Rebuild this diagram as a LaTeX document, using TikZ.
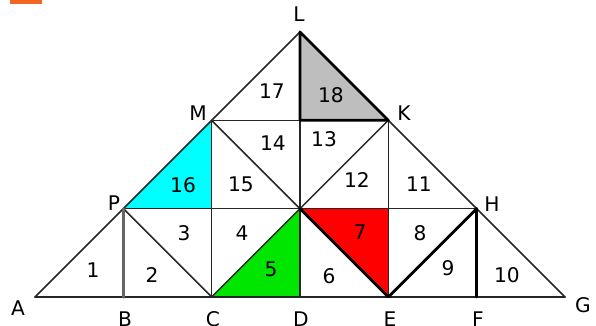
\documentclass[tikz,border=0pt]{standalone}
\usepackage{fontspec}
\setmainfont{DejaVu Sans}
\usetikzlibrary{calc}
\definecolor{piececyan}{RGB}{0,255,255}
\definecolor{piecegreen}{RGB}{0,230,0}
\definecolor{piecered}{RGB}{255,0,0}
\definecolor{piecegray}{RGB}{190,190,190}
\definecolor{markorange}{RGB}{242,101,34}

\begin{document}
\begin{tikzpicture}[x=2cm,y=2cm,line join=round,line cap=round,
	thin line/.style={draw=black!85,line width=1pt},
	thick line/.style={draw=black,line width=1.8pt},
	pt label/.style={font=\fontsize{13}{15}\selectfont,inner sep=0pt},
	area label/.style={font=\fontsize{13}{15}\selectfont,inner sep=0pt}]
	
	\useasboundingbox (-0.396,-0.328) rectangle (6.351,3.362);
	\fill[markorange] (-0.283,3.317) rectangle (0.079,3.362);
	
	% points of the figure
	\coordinate (A) at (0,0);
	\coordinate (B) at (1,0);
	\coordinate (C) at (2,0);
	\coordinate (D) at (3,0);
	\coordinate (E) at (4,0);
	\coordinate (F) at (5,0);
	\coordinate (G) at (6,0);
	\coordinate (P) at (1,1);
	\coordinate (H) at (5,1);
	\coordinate (M) at (2,2);
	\coordinate (K) at (4,2);
	\coordinate (L) at (3,3);
	\coordinate (q) at (2,1);
	\coordinate (o) at (3,1);
	\coordinate (r) at (4,1);
	\coordinate (s) at (3,2);
	
	% coloured pieces
	\fill[piececyan] (P) -- (q) -- (M) -- cycle;
	\fill[piecegreen] (C) -- (D) -- (o) -- cycle;
	\fill[piecered] (o) -- (r) -- (E) -- cycle;
	\fill[piecegray] (s) -- (K) -- (L) -- cycle;
	
	\path[thin line]
	(A) edge (G)
	(A) edge (L)
	(L) edge (G)
	(P) edge (H)
	(M) edge (K)
	(C) edge (M)
	(D) edge (s)
	(E) edge (K)
	(P) edge (C)
	(C) edge (K)
	(M) edge (o);
	
	\draw[draw=black!60,line width=2pt] (B) -- (P);
	\path[thick line]
	(o) edge (E)
	(E) edge (H)
	(F) edge (H);
	\draw[thick line] (L) -- (s) -- (K) -- cycle;
	
	% numbers of the pieces
	\foreach \n/\x/\y in {1/0.657/0.306, 2/1.325/0.249, 3/1.687/0.725,
		4/2.343/0.725, 5/2.672/0.317, 6/3.328/0.238, 7/3.68/0.736,
		8/4.36/0.725, 9/4.676/0.328, 10/5.343/0.249, 11/4.347/1.279,
		12/3.645/1.325, 13/3.272/1.789, 14/2.694/1.743, 15/2.332/1.279,
		16/1.676/1.268, 17/2.683/2.332, 18/3.351/2.287}
	\node[area label] (n\n) at (\x,\y) {\n};
	
	% names of the points
	\foreach \p/\x/\y in {A/-0.192/-0.125, B/1.019/-0.255, C/2.015/-0.255,
		D/3.011/-0.255, E/4.019/-0.255, F/5.015/-0.255, G/6.204/-0.09,
		H/5.174/1.053, K/4.177/2.083, L/2.989/3.204, M/1.845/2.083,
		P/0.894/1.064}
	\node[pt label] (lab\p) at (\x,\y) {\p};
\end{tikzpicture}
\end{document}
